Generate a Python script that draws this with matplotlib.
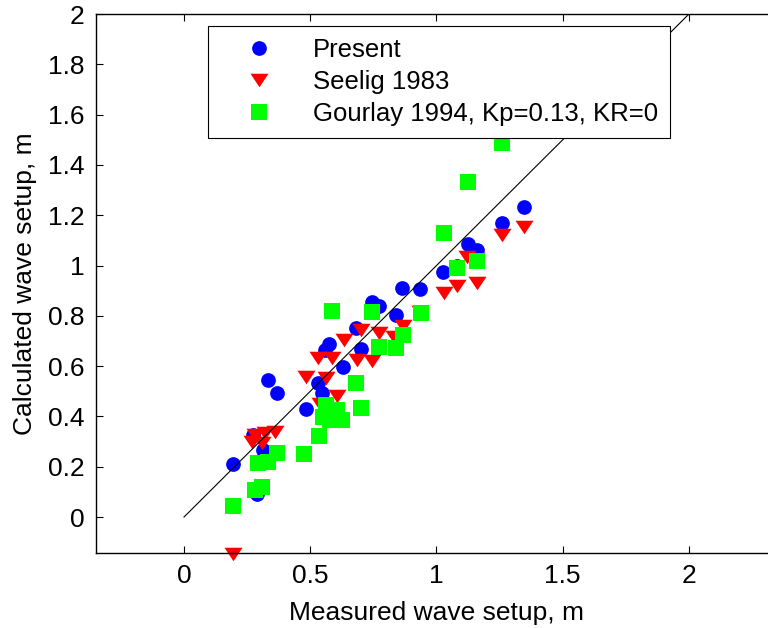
"""Measured vs calculated wave setup scatter comparison."""

import matplotlib

matplotlib.use("Agg")
import matplotlib.pyplot as plt

plt.rcParams["font.family"] = ["Liberation Sans", "DejaVu Sans"]

# Present model
present_x = [0.195, 0.275, 0.314, 0.288, 0.334, 0.367, 0.483, 0.532, 0.545, 0.558,
             0.576, 0.628, 0.681, 0.700, 0.743, 0.774, 0.840, 0.862, 0.935, 1.027,
             1.082, 1.126, 1.162, 1.258, 1.347]
present_y = [0.211, 0.326, 0.266, 0.090, 0.545, 0.492, 0.428, 0.532, 0.492, 0.664,
             0.688, 0.598, 0.750, 0.670, 0.856, 0.839, 0.803, 0.909, 0.905, 0.973,
             0.999, 1.085, 1.062, 1.170, 1.234]

# Seelig 1983
seelig_x = [0.195, 0.268, 0.281, 0.310, 0.320, 0.360, 0.483, 0.532, 0.539, 0.562,
            0.585, 0.605, 0.634, 0.684, 0.700, 0.745, 0.774, 0.830, 0.866, 0.935,
            1.030, 1.082, 1.120, 1.159, 1.258, 1.347]
seelig_y = [-0.145, 0.300, 0.326, 0.294, 0.333, 0.340, 0.558, 0.631, 0.450, 0.551,
            0.631, 0.480, 0.704, 0.623, 0.742, 0.622, 0.730, 0.716, 0.760, 0.814,
            0.892, 0.918, 1.035, 0.932, 1.121, 1.154]

# Gourlay 1994
gourlay_x = [0.195, 0.281, 0.308, 0.294, 0.334, 0.367, 0.475, 0.536, 0.552, 0.578,
             0.624, 0.562, 0.605, 0.700, 0.681, 0.585, 0.743, 0.774, 0.840, 0.866,
             0.937, 1.030, 1.082, 1.159, 1.126, 1.258]
gourlay_y = [0.044, 0.107, 0.118, 0.216, 0.220, 0.256, 0.250, 0.322, 0.399, 0.386,
             0.386, 0.445, 0.425, 0.432, 0.532, 0.820, 0.816, 0.677, 0.671, 0.724,
             0.810, 1.131, 0.992, 1.019, 1.333, 1.486]

x_ticks = [0, 0.5, 1, 1.5, 2]
x_tick_labels = ["0", "0.5", "1", "1.5", "2"]
y_ticks = [0, 0.2, 0.4, 0.6, 0.8, 1, 1.2, 1.4, 1.6, 1.8, 2]
y_tick_labels = ["0", "0.2", "0.4", "0.6", "0.8", "1", "1.2", "1.4", "1.6", "1.8", "2"]

# wide flat downward triangle, like MATLAB's 'v'
TRIANGLE = [(-1, 0.75), (1, 0.75), (0, -0.75)]


def main() -> None:
    fig = plt.figure(figsize=(7.68, 6.28), dpi=100)
    ax = fig.add_axes([0.1245, 0.1194, 0.8877, 0.8583])

    ax.plot(present_x, present_y, "o", color="#0000ff", markersize=10.6,
            markeredgewidth=0, label="Present", clip_on=False)
    ax.plot(seelig_x, seelig_y, linestyle="none", marker=TRIANGLE, color="#ff0000",
            markersize=13, markeredgewidth=0, label="Seelig 1983", clip_on=False)
    ax.plot(gourlay_x, gourlay_y, "s", color="#00ff00", markersize=11,
            markeredgewidth=0, label="Gourlay 1994, Kp=0.13, KR=0", clip_on=False)
    ax.plot([0, 2], [0, 2], color="black", linewidth=0.8)

    ax.set_xlim(-0.35, 2.35)
    ax.set_ylim(-0.143, 2.0)
    ax.set_xticks(x_ticks)
    ax.set_xticklabels(x_tick_labels)
    ax.set_yticks(y_ticks)
    ax.set_yticklabels(y_tick_labels)
    ax.tick_params(direction="in", length=5, width=0.8, labelsize=19, top=True, pad=8)
    for spine in ax.spines.values():
        spine.set_linewidth(1.0)

    ax.set_xlabel("Measured wave setup, m", fontsize=19, labelpad=9)
    ax.set_ylabel("Calculated wave setup, m", fontsize=19, labelpad=8)

    leg = ax.legend(loc="upper left", bbox_to_anchor=(208 / 768, 1 - 26 / 628),
                    bbox_transform=fig.transFigure, borderaxespad=0, fontsize=18.5,
                    frameon=True, fancybox=False, framealpha=1, edgecolor="black",
                    borderpad=0.45, handlelength=3.1, handletextpad=0.55,
                    labelspacing=0.32, numpoints=1)
    leg.get_frame().set_linewidth(0.8)

    fig.savefig("out.png", dpi=100)
    plt.close(fig)


if __name__ == "__main__":
    main()
